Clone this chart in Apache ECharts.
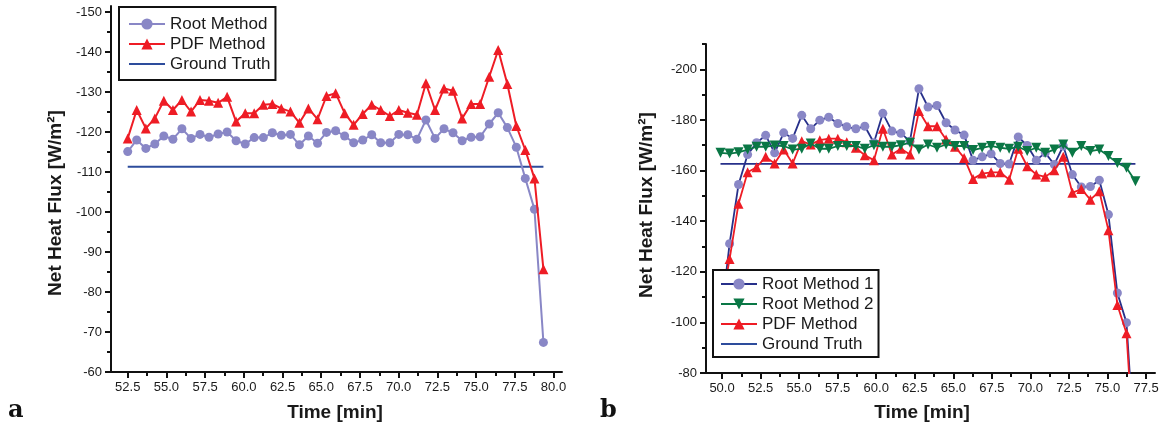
<!DOCTYPE html>
<html>
<head>
<meta charset="utf-8">
<script src="https://cdn.jsdelivr.net/npm/echarts@6/dist/echarts.min.js"></script>
<style>
html, body { margin: 0; padding: 0; background: #fff; }
#chart { width: 1167px; height: 433px; }
</style>
</head>
<body>
<div id="chart"></div>
<script>
// Panel a: net heat flux estimates over time
const timeA = [52.50, 53.08, 53.67, 54.25, 54.83, 55.42, 56.00, 56.59, 57.17, 57.75,
  58.34, 58.92, 59.50, 60.09, 60.67, 61.26, 61.84, 62.42, 63.01, 63.59,
  64.17, 64.76, 65.34, 65.93, 66.51, 67.09, 67.68, 68.26, 68.84, 69.43,
  70.01, 70.59, 71.18, 71.76, 72.35, 72.93, 73.51, 74.10, 74.68, 75.26,
  75.85, 76.43, 77.02, 77.60, 78.18, 78.77, 79.35];
const rootA = [-115.1, -118.0, -115.9, -117.0, -119.0, -118.2, -120.8, -118.4, -119.4, -118.7,
  -119.5, -120.0, -117.8, -117.0, -118.6, -118.6, -119.8, -119.2, -119.4, -116.8,
  -119.0, -117.2, -119.9, -120.3, -119.0, -117.3, -118.0, -119.3, -117.3, -117.3,
  -119.4, -119.3, -118.2, -123.0, -118.4, -120.8, -119.8, -117.8, -118.7, -118.8,
  -122.0, -124.8, -121.1, -116.2, -108.4, -100.7, -67.4];
const pdfA = [-118.4, -125.5, -120.9, -123.4, -127.8, -125.5, -128.0, -125.1, -128.0, -127.8,
  -127.3, -128.8, -122.6, -124.7, -124.7, -126.8, -127.0, -125.9, -125.1, -122.3,
  -125.9, -123.2, -129.0, -129.7, -124.7, -121.8, -124.5, -126.8, -125.5, -124.0,
  -125.5, -124.8, -124.3, -132.2, -125.5, -130.9, -130.3, -123.4, -127.0, -127.0,
  -133.8, -140.5, -132.0, -121.5, -115.5, -108.4, -85.7];
const truthA = -111.3;

// Panel b
const timeB = [49.90, 50.49, 51.07, 51.66, 52.24, 52.83, 53.41, 54.00, 54.58, 55.17,
  55.75, 56.34, 56.92, 57.51, 58.09, 58.68, 59.26, 59.85, 60.43, 61.02,
  61.60, 62.19, 62.77, 63.36, 63.94, 64.53, 65.11, 65.70, 66.28, 66.87,
  67.45, 68.04, 68.62, 69.21, 69.79, 70.38, 70.96, 71.55, 72.13, 72.72,
  73.30, 73.89, 74.47, 75.06, 75.64, 76.23, 76.81];
const root1B = [-100, -131.1, -154.5, -166.3, -171.0, -173.9, -167.0, -174.9, -172.7, -181.8,
  -176.5, -179.9, -181.1, -178.6, -177.3, -176.5, -177.5, -171.0, -182.6, -175.6,
  -174.7, -171.6, -192.3, -185.1, -185.7, -178.9, -176.0, -174.0, -164.1, -165.4,
  -166.6, -162.8, -162.6, -173.3, -169.9, -164.1, -167.0, -162.4, -169.7, -158.4,
  -153.5, -153.7, -156.2, -142.6, -111.6, -99.9, -45];
const root2B = [-167.0, -166.7, -167.2, -168.3, -169.4, -169.4, -169.9, -169.7, -168.3, -168.6,
  -170.7, -168.6, -168.6, -169.7, -169.7, -169.7, -168.6, -170.0, -169.4, -169.4,
  -170.0, -171.0, -168.3, -170.3, -169.0, -170.3, -169.7, -169.7, -168.1, -169.0,
  -169.7, -169.0, -168.6, -169.4, -167.7, -169.0, -167.0, -168.3, -170.3, -167.0,
  -169.7, -167.7, -168.3, -165.7, -163.0, -161.1, -155.8];
const pdfB = [-105, -125.0, -146.9, -159.3, -161.3, -165.4, -162.8, -168.3, -162.8, -171.6,
  -170.3, -172.0, -172.6, -172.6, -171.2, -169.0, -166.0, -164.1, -176.5, -166.3,
  -168.6, -166.3, -183.5, -177.5, -177.5, -172.3, -169.4, -165.0, -156.7, -158.8,
  -159.3, -159.3, -156.4, -168.6, -161.7, -158.4, -157.5, -160.1, -165.4, -151.2,
  -152.7, -148.5, -151.8, -136.4, -106.9, -95.7, -40];
const truthB = -162.6;

// Tick positions
const xTicksA = [52.5, 55, 57.5, 60, 62.5, 65, 67.5, 70, 72.5, 75, 77.5, 80];
const xMinorA = [53.75, 56.25, 58.75, 61.25, 63.75, 66.25, 68.75, 71.25, 73.75, 76.25, 78.75];
const yTicksA = [-150, -140, -130, -120, -110, -100, -90, -80, -70, -60];
const yMinorA = [-145, -135, -125, -115, -105, -95, -85, -75, -65];
const xTicksB = [50, 52.5, 55, 57.5, 60, 62.5, 65, 67.5, 70, 72.5, 75, 77.5];
const xMinorB = [51.25, 53.75, 56.25, 58.75, 61.25, 63.75, 66.25, 68.75, 71.25, 73.75, 76.25];
const yTicksB = [-200, -180, -160, -140, -120, -100, -80];
const yMinorB = [-210, -190, -170, -150, -130, -110, -90];

const FONT = '"Liberation Sans", Arial, Helvetica, sans-serif';
const LAVENDER = '#8987C6';
const RED = '#EE1C25';
const GREEN = '#0A7745';
const NAVY = '#27308A';
const TRUTH_A = '#2D4C9C';

const pairs = (xs, ys) => xs.map((x, i) => [x, ys[i]]);

// A value axis with major ticks/labels plus a companion axis carrying the minor ticks
function axis(dim, grid, min, max, ticks, minor, opts) {
  const base = {
    gridIndex: grid, type: 'value', min: min, max: max,
    position: dim === 'x' ? 'bottom' : 'left',
    inverse: dim === 'y',
    splitLine: { show: false }
  };
  const major = Object.assign({}, base, {
    axisLine: { show: true, onZero: false, lineStyle: { color: '#111', width: 2 } },
    axisTick: { show: true, length: 6, customValues: ticks, lineStyle: { color: '#111', width: 2 } },
    axisLabel: Object.assign({
      show: true, customValues: ticks, color: '#1a1a1a', fontSize: 13, fontFamily: FONT, margin: 9
    }, opts || {})
  });
  const sub = Object.assign({}, base, {
    axisLine: { show: false, onZero: false },
    axisTick: { show: true, length: 4, customValues: minor, lineStyle: { color: '#111', width: 2 } },
    axisLabel: { show: false }
  });
  return [major, sub];
}

const fmt1 = v => v.toFixed(1);

const xAxes = [].concat(
  axis('x', 0, 51.42, 80.55, xTicksA, xMinorA, { formatter: fmt1 }),
  axis('x', 1, 48.96, 78.08, xTicksB, xMinorB, { formatter: fmt1 })
);
const yAxes = [].concat(
  axis('y', 0, -151.5, -60, yTicksA, yMinorA),
  axis('y', 1, -210, -80, yTicksB, yMinorB)
);

const legendText = { fontSize: 17, fontFamily: FONT, color: '#1a1a1a', lineHeight: 20 };
// the ground-truth line has no marker, so hide the legend symbol and keep the stroke
const truthItem = { name: 'Ground Truth', itemStyle: { opacity: 0 } };

const option = {
  backgroundColor: '#fff',
  animation: false,
  grid: [
    { left: 111, top: 6, width: 451, height: 366 },
    { left: 706, top: 44, width: 449, height: 329 }
  ],
  xAxis: xAxes,
  yAxis: yAxes,
  legend: [
    {
      data: ['Root Method', 'PDF Method', truthItem],
      orient: 'vertical', left: 119, top: 7, z: 20,
      itemWidth: 36, itemHeight: 14, itemGap: 0,
      padding: [7, 5, 6, 9],
      backgroundColor: '#fff', borderColor: '#111', borderWidth: 2,
      textStyle: legendText, selectedMode: false
    },
    {
      data: ['Root Method 1', 'Root Method 2', 'PDF Method', truthItem],
      orient: 'vertical', left: 713, top: 270, z: 20,
      itemWidth: 36, itemHeight: 14, itemGap: 0,
      padding: [4, 5, 3, 7],
      backgroundColor: '#fff', borderColor: '#111', borderWidth: 2,
      textStyle: legendText, selectedMode: false
    }
  ],
  graphic: [
    { type: 'text', x: 56, y: 203, rotation: Math.PI / 2,
      style: { text: 'Net Heat Flux [W/m²]', font: 'bold 19px ' + FONT, fill: '#1a1a1a',
        align: 'center', verticalAlign: 'middle' } },
    { type: 'text', x: 647, y: 205, rotation: Math.PI / 2,
      style: { text: 'Net Heat Flux [W/m²]', font: 'bold 19px ' + FONT, fill: '#1a1a1a',
        align: 'center', verticalAlign: 'middle' } },
    { type: 'text', x: 335, y: 413,
      style: { text: 'Time [min]', font: 'bold 19px ' + FONT, fill: '#1a1a1a',
        align: 'center', verticalAlign: 'middle' } },
    { type: 'text', x: 922, y: 413,
      style: { text: 'Time [min]', font: 'bold 19px ' + FONT, fill: '#1a1a1a',
        align: 'center', verticalAlign: 'middle' } },
    { type: 'text', x: 8, y: 423,
      style: { text: 'a', font: 'bold 24px "DejaVu Serif", serif', fill: '#111',
        align: 'left', verticalAlign: 'bottom' } },
    { type: 'text', x: 600, y: 423,
      style: { text: 'b', font: 'bold 24px "DejaVu Serif", serif', fill: '#111',
        align: 'left', verticalAlign: 'bottom' } }
  ],
  series: [
    { name: 'Root Method', type: 'line', xAxisIndex: 0, yAxisIndex: 0,
      data: pairs(timeA, rootA), symbol: 'circle', symbolSize: 9,
      lineStyle: { color: LAVENDER, width: 2 }, itemStyle: { color: LAVENDER }, z: 3 },
    { name: 'PDF Method', type: 'line', xAxisIndex: 0, yAxisIndex: 0,
      data: pairs(timeA, pdfA), symbol: 'triangle', symbolSize: 10,
      lineStyle: { color: RED, width: 2 }, itemStyle: { color: RED }, z: 4 },
    { name: 'Ground Truth', type: 'line', xAxisIndex: 0, yAxisIndex: 0,
      data: [[timeA[0], truthA], [timeA[timeA.length - 1], truthA]], symbol: 'none',
      lineStyle: { color: TRUTH_A, width: 2 }, itemStyle: { color: TRUTH_A }, z: 2 },

    { name: 'Root Method 1', type: 'line', xAxisIndex: 2, yAxisIndex: 2,
      data: pairs(timeB, root1B), symbol: 'circle', symbolSize: 9,
      lineStyle: { color: NAVY, width: 1.8 }, itemStyle: { color: LAVENDER }, z: 3 },
    { name: 'PDF Method', type: 'line', xAxisIndex: 2, yAxisIndex: 2,
      data: pairs(timeB, pdfB), symbol: 'triangle', symbolSize: 10,
      lineStyle: { color: RED, width: 1.8 }, itemStyle: { color: RED }, z: 4 },
    { name: 'Root Method 2', type: 'line', xAxisIndex: 2, yAxisIndex: 2,
      data: pairs(timeB, root2B), symbol: 'triangle', symbolRotate: 180, symbolSize: 10,
      lineStyle: { color: GREEN, width: 1.8 }, itemStyle: { color: GREEN }, z: 5 },
    { name: 'Ground Truth', type: 'line', xAxisIndex: 2, yAxisIndex: 2,
      data: [[timeB[0], truthB], [timeB[timeB.length - 1], truthB]], symbol: 'none',
      lineStyle: { color: NAVY, width: 1.8 }, itemStyle: { color: NAVY }, z: 2 }
  ]
};

const chart = echarts.init(document.getElementById('chart'), null, { renderer: 'canvas' });
chart.setOption(option);
</script>
</body>
</html>
